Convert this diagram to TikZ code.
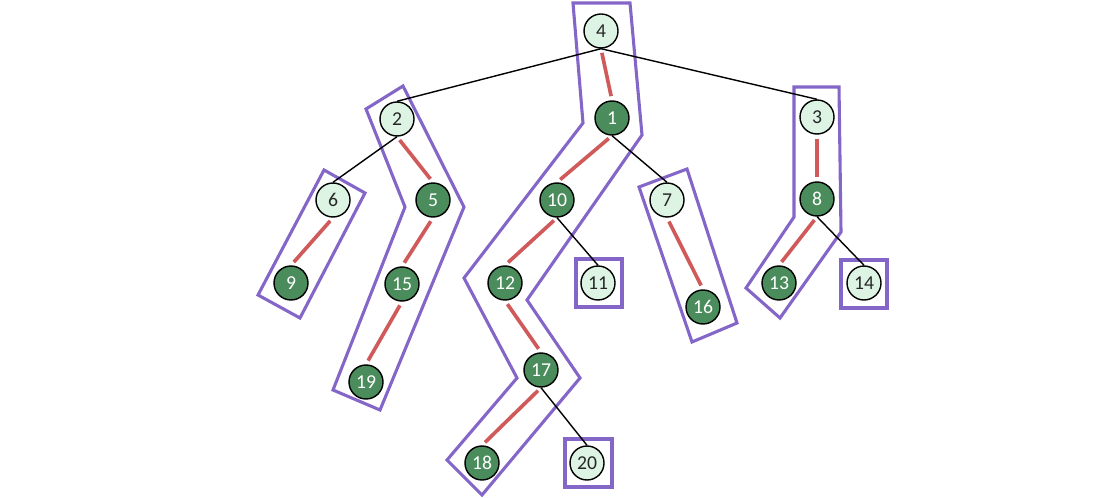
\documentclass[tikz,border=0pt]{standalone}
\usepackage{fontspec}
\setmainfont{Carlito}
\usepackage{tikz}
\definecolor{hlpale}{HTML}{DDF3E3}
\definecolor{hldark}{HTML}{4A8C5C}
\definecolor{hlred}{HTML}{D05A5A}
\definecolor{hlpurple}{HTML}{8466C8}

\begin{document}
\begin{tikzpicture}[x=0.025cm,y=-0.025cm,
    head/.style={circle, draw=black, fill=hlpale, line width=1pt, text=black!85,
                 inner sep=0pt, minimum size=0.85cm, font=\fontsize{14}{16}\selectfont},
    body/.style={head, fill=hldark, text=white},
    light/.style={line width=1pt, black},
    heavy/.style={line width=2.6pt, hlred, shorten <=3pt, shorten >=3pt},
    chain/.style={line width=2.2pt, hlpurple}]

  \path[use as bounding box] (0,0) rectangle (1116,498);

  % ================= the chains, drawn first =================
  % ---- 4-1-10-12-17-18 ----
  \draw[chain] (573,3) -- (630,3) -- (642,135) -- (527,300) -- (580,378) --
               (482,495) -- (447,460) -- (517,378) -- (464,278) -- (583,123) -- cycle;
  % ---- 2-5-15-19 ----
  \draw[chain] (403,86) -- (464,207) -- (380,410) -- (333,390) -- (405,207) -- (366,109) -- cycle;
  % ---- 6-9 and 7-16 ----
  \draw[chain] (324,170) -- (365,193) -- (300,318) -- (258,295) -- cycle;
  \draw[chain] (639,187) -- (687,169) -- (737,323) -- (692,342) -- cycle;
  % ---- 3-8-13 ----
  \draw[chain] (794,87) -- (839,87) -- (841,232) -- (780,318) -- (746,288) -- (794,217) -- cycle;
  % ---- single leaves ----
  \draw[chain] (576,259) rectangle (622,307);
  \draw[chain] (841,260) rectangle (887,308);
  \draw[chain] (565,439) rectangle (612,487);

  % ================= the nodes =================
  \foreach \n/\x/\y in {4/601/31, 2/397/119, 3/817/117, 6/333/200, 7/667/200,
                        11/598/283, 14/864/283, 20/587/463}{
    \node[head] (n\n) at (\x,\y) {\n};}
  \foreach \n/\x/\y in {1/612/118, 5/433/200, 10/557/200, 8/817/199, 9/291/283,
                        15/402/284, 12/505/283, 16/703/307, 13/779/283,
                        19/366/382, 17/541/370, 18/482/463}{
    \node[body] (n\n) at (\x,\y) {\n};}

  % ================= the edges =================
  \foreach \a/\b in {4/2, 4/3, 2/6, 1/7, 10/11, 8/14, 17/20}{
    \draw[light] (n\a.south) -- (n\b.north);}
  \foreach \a/\b in {4/1, 2/5, 6/9, 5/15, 15/19, 1/10, 10/12, 12/17, 17/18,
                     7/16, 3/8, 8/13}{
    \draw[heavy] (n\a.south) -- (n\b.north);}
\end{tikzpicture}
\end{document}
